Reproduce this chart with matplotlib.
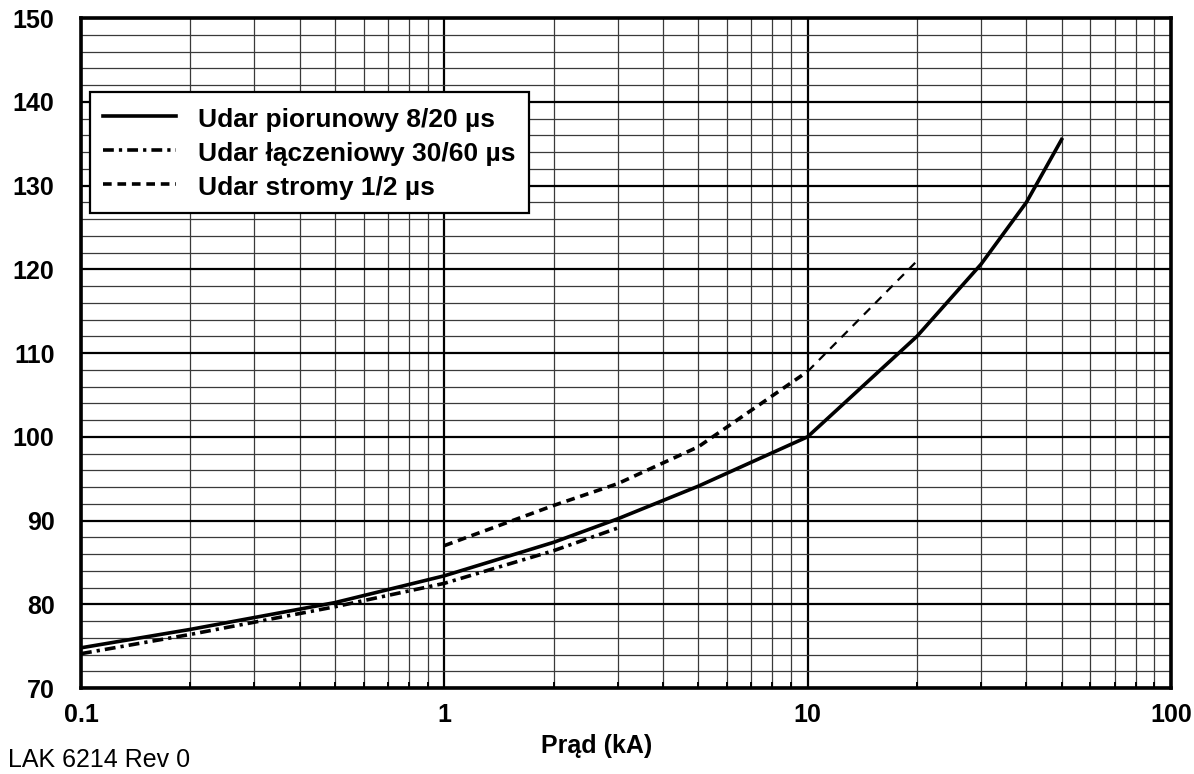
import matplotlib
matplotlib.use("Agg")
import matplotlib.pyplot as plt
from matplotlib.ticker import FixedLocator, NullFormatter

plt.rcParams['font.family'] = ['Liberation Sans', 'DejaVu Sans']

# Data
x_lightning = [0.1, 0.2, 0.5, 1, 2, 3, 5, 10, 20, 30, 40, 50]
y_lightning = [74.8, 77.0, 80.2, 83.4, 87.4, 90.2, 94.1, 100.0, 112.0, 120.6, 128.0, 135.5]

x_switching = [0.1, 0.2, 0.5, 1, 2, 3]
y_switching = [74.1, 76.4, 79.7, 82.5, 86.4, 89.1]

x_steep = [1, 2, 3, 5, 10, 20]
y_steep = [87.0, 91.8, 94.4, 98.8, 107.8, 121.0]

labels = ["Udar piorunowy 8/20 µs", "Udar łączeniowy 30/60 µs", "Udar stromy 1/2 µs"]
x_ticks = [0.1, 1, 10, 100]
x_tick_labels = ["0.1", "1", "10", "100"]
y_ticks = [70, 80, 90, 100, 110, 120, 130, 140, 150]

fig = plt.figure(figsize=(11.94, 7.74), dpi=100)
ax = fig.add_axes([0.06784, 0.1111, 0.9129, 0.8656])

ax.set_xscale('log')
ax.set_xlim(0.1, 100)
ax.set_ylim(70, 150)

minor_x = [m * d for d in (0.1, 1, 10) for m in range(2, 10)]
ax.xaxis.set_major_locator(FixedLocator(x_ticks))
ax.xaxis.set_minor_locator(FixedLocator(minor_x))
ax.xaxis.set_minor_formatter(NullFormatter())
ax.set_xticks(x_ticks)
ax.set_xticklabels(x_tick_labels)
ax.set_yticks(y_ticks)
ax.yaxis.set_minor_locator(FixedLocator([v for v in range(70, 151, 2) if v % 10]))

ax.grid(which='major', color='black', linewidth=1.6, zorder=0)
ax.grid(which='minor', color='#3a3a3a', linewidth=0.9, zorder=0)
ax.tick_params(which='major', length=0)
ax.tick_params(axis='y', which='minor', length=0)
ax.tick_params(axis='x', which='minor', direction='in', length=4, width=1.4, color='black')
ax.tick_params(axis='both', labelsize=18)
for lab in ax.get_xticklabels() + ax.get_yticklabels():
    lab.set_fontweight('bold')
ax.tick_params(axis='x', pad=11)
ax.tick_params(axis='y', pad=19)
for s in ax.spines.values():
    s.set_linewidth(2.6)
    s.set_zorder(5)

l1, = ax.plot(x_lightning, y_lightning, color='black', lw=2.6, solid_joinstyle='miter', label=labels[0], zorder=3)
l2, = ax.plot(x_switching, y_switching, color='black', lw=2.6, dashes=(3.0, 1.4, 0.9, 1.4), label=labels[1], zorder=3)
l3, = ax.plot(x_steep[:5], y_steep[:5], color='black', lw=2.6, dashes=(2.4, 1.6), label=labels[2], zorder=3)
ax.plot(x_steep[4:], y_steep[4:], color='black', lw=1.6, dashes=(4.0, 3.2), zorder=3)

leg = ax.legend(handles=[l1, l2, l3], loc='upper left', bbox_to_anchor=(0.00826, 0.8896), borderaxespad=0,
                prop={'weight': 'bold', 'size': 19},
                frameon=True, fancybox=False, edgecolor='black', framealpha=1,
                handlelength=2.77, handletextpad=0.83, borderpad=0.5, labelspacing=0.255,
                handleheight=1.14)
leg.get_frame().set_linewidth(1.6)
leg.set_zorder(6)

fig.text(0.5, 1 - 753.3 / 774, "Prąd (kA)", ha='center', va='baseline', fontsize=18, fontweight='bold')
fig.text(8 / 1194, 1 - 767 / 774, "LAK 6214 Rev 0", ha='left', va='baseline', fontsize=18)

fig.savefig("out.png", dpi=100)
